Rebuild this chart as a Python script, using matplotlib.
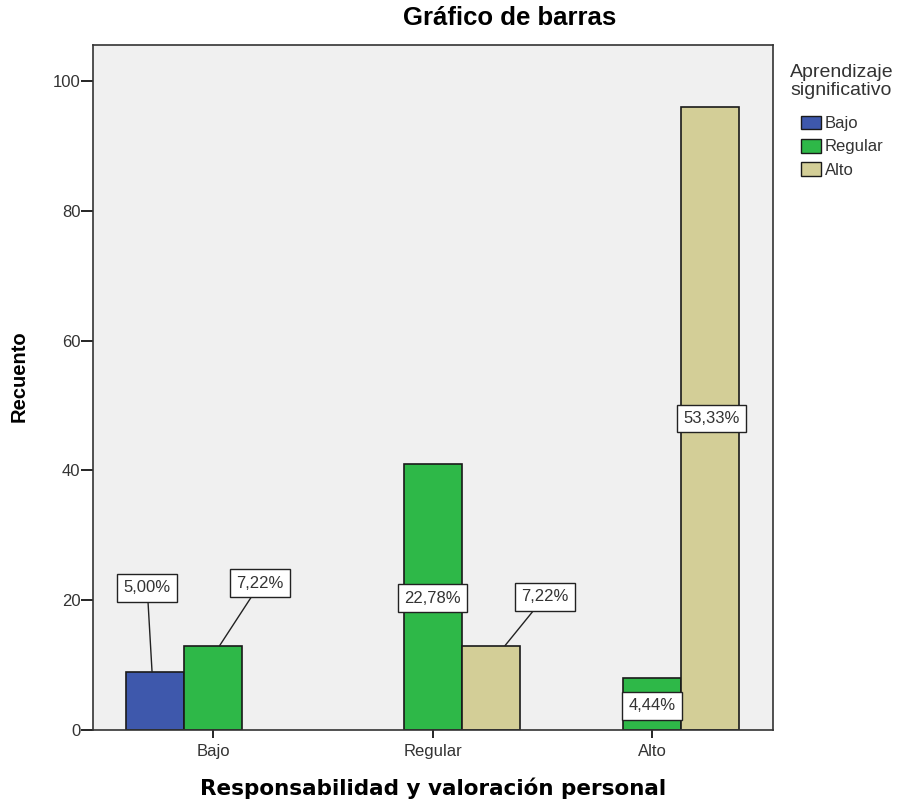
import numpy as np
import matplotlib
matplotlib.use("Agg")
import matplotlib.pyplot as plt
from matplotlib.patches import Patch

plt.rcParams['font.family'] = ['Liberation Sans', 'DejaVu Sans']

# Data
categories = ['Bajo', 'Regular', 'Alto']          # Responsabilidad y valoración personal
series = ['Bajo', 'Regular', 'Alto']              # Aprendizaje significativo
bajo_counts = [9, 0, 0]
regular_counts = [13, 41, 8]
alto_counts = [0, 13, 96]
counts = [bajo_counts, regular_counts, alto_counts]
total = sum(sum(c) for c in counts)

colors = ['#3E58AC', '#2EB848', '#D3CE97']
width = 0.264

# label box positions (data coords) per (series, category)
label_pos = {
    (0, 0): (-0.30, 21.9),
    (1, 0): (0.215, 22.6),
    (1, 1): (1.0, 20.3),
    (2, 1): (1.51, 20.5),
    (1, 2): (2.0, 3.7),
    (2, 2): (2.27, 48.0),
}
# leader line end on the bar top: x offset from bar centre
leader = {(0, 0): -0.014, (1, 0): 0.03, (2, 1): 0.066}

fig = plt.figure(figsize=(9.01, 8.05), dpi=100)
ax = fig.add_axes([0.1032, 0.0932, 0.7548, 0.8513])
ax.set_facecolor('#F0F0F0')

x = np.arange(len(categories))
for j, vals in enumerate(counts):
    for i, v in enumerate(vals):
        if v == 0:
            continue
        xc = x[i] + (j - 1) * width
        ax.bar(xc, v, width, color=colors[j], edgecolor='#1a1a1a', linewidth=1.2, zorder=2)
        lx, ly = label_pos[(j, i)]
        txt = f"{100 * v / total:.2f}%".replace('.', ',')
        bbox = dict(boxstyle='square,pad=0.38', fc='white', ec='#222222', lw=1.0)
        if (j, i) in leader:
            ax.annotate(txt, xy=(xc + leader[(j, i)], v), xytext=(lx, ly),
                        ha='center', va='center', fontsize=12, color='#333333', bbox=bbox,
                        arrowprops=dict(arrowstyle='-', color='#222222', lw=1.0,
                                        shrinkA=0, shrinkB=0), zorder=4)
        else:
            ax.text(lx, ly, txt, ha='center', va='center', fontsize=12, color='#333333',
                    bbox=bbox, zorder=4)

ax.set_xlim(-0.547, 2.551)
ax.set_ylim(0, 105.6)
ax.set_xticks(x)
ax.set_xticklabels(categories, fontsize=12, color='#333333')
ax.set_yticks([0, 20, 40, 60, 80, 100])
ax.tick_params(axis='y', labelsize=12, labelcolor='#333333', length=9, width=1.2, pad=0)
ax.tick_params(axis='x', length=6, width=1.2, pad=4)
for s in ax.spines.values():
    s.set_color('#333333')
    s.set_linewidth(1.2)

fig.text(0.021, 0.533, 'Recuento', rotation=90, ha='center', va='center',
         fontsize=14.5, fontweight='bold')
fig.text(0.4806, 0.013, 'Responsabilidad y valoración personal', ha='center', va='baseline',
         fontsize=15.5, fontweight='bold', family=['DejaVu Sans'])
fig.text(0.566, 0.978, 'Gráfico de barras', ha='center', va='center',
         fontsize=18.5, fontweight='bold')

handles = [Patch(facecolor=c, edgecolor='#1a1a1a', label=s) for c, s in zip(colors, series)]
leg = fig.legend(handles=handles, loc='upper center', bbox_to_anchor=(0.9345, 0.921),
                 frameon=False, fontsize=12, title='Aprendizaje\nsignificativo',
                 title_fontsize=14, handlelength=1.2, handleheight=0.9,
                 handletextpad=0.25, labelspacing=0.45, borderaxespad=0, borderpad=0)
leg._legend_box.align = 'center'
leg._legend_box.sep = 12
leg.get_title().set_color('#333333')
leg.get_title().set_linespacing(1.1)
for t in leg.get_texts():
    t.set_color('#333333')

fig.savefig('out.png', dpi=100, facecolor='white')
